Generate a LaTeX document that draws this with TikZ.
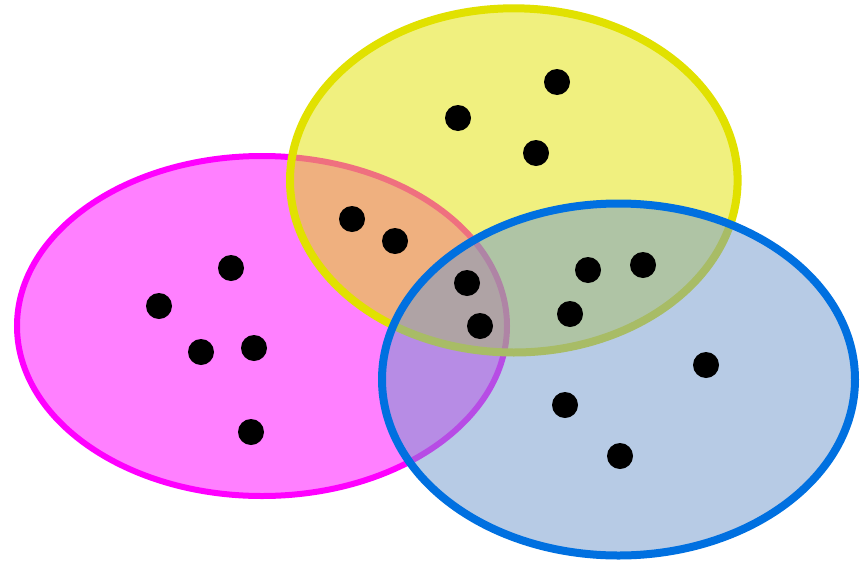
\documentclass[tikz,border=0pt]{standalone}
\begin{document}
\definecolor{magS}{RGB}{255,0,255}
\definecolor{magF}{RGB}{255,128,255}
\definecolor{yelS}{RGB}{225,225,0}
\definecolor{yelF}{RGB}{225,225,0}
\definecolor{bluS}{RGB}{0,112,224}
\definecolor{bluF}{RGB}{112,152,204}
\begin{tikzpicture}[x=1pt,y=-1pt,
  dot/.style={circle,fill=black,inner sep=0pt,minimum size=26pt}]
\useasboundingbox (0,0) rectangle (865,560);
% magenta set
\path[line width=6pt,draw=magS,fill=magF] (262,326) ellipse [x radius=245, y radius=170];
% yellow set
\fill[yelF,fill opacity=0.5] (513.8,180.4) ellipse [x radius=223.8, y radius=172.1];
\draw[line width=8pt,yelS] (513.8,180.4) ellipse [x radius=223.8, y radius=172.1];
% blue set
\fill[bluF,fill opacity=0.5] (618.5,379.5) ellipse [x radius=236.5, y radius=176];
\draw[line width=8pt,bluS] (618.5,379.5) ellipse [x radius=236.5, y radius=176];
% points
\node[dot] (y1) at (557,82) {};
\node[dot] (y2) at (458,118) {};
\node[dot] (y3) at (536,153) {};
\node[dot] (my1) at (352,219) {};
\node[dot] (my2) at (395,241) {};
\node[dot] (m1) at (231,268) {};
\node[dot] (m2) at (159,306) {};
\node[dot] (m3) at (201,352) {};
\node[dot] (m4) at (254,348) {};
\node[dot] (m5) at (251,432) {};
\node[dot] (t1) at (467,283) {};
\node[dot] (t2) at (480,326) {};
\node[dot] (yb1) at (588,270) {};
\node[dot] (yb2) at (643,265) {};
\node[dot] (yb3) at (570,314) {};
\node[dot] (b1) at (706,365) {};
\node[dot] (b2) at (565,405) {};
\node[dot] (b3) at (620,456) {};
\end{tikzpicture}
\end{document}
